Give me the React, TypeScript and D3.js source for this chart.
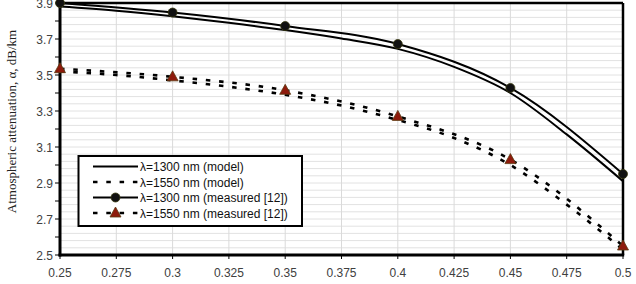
import React from 'react';
import * as d3 from 'd3';

// x values (visibility-ish parameter) and attenuation values
const modelX = [0.25, 0.275, 0.3, 0.325, 0.35, 0.375, 0.4, 0.425, 0.45, 0.475, 0.5];
const model1300 = [3.88, 3.857, 3.826, 3.79, 3.75, 3.703, 3.645, 3.545, 3.4, 3.17, 2.91];
const model1550 = [3.52, 3.5, 3.47, 3.435, 3.39, 3.33, 3.25, 3.15, 3.0, 2.78, 2.53];

const measX = [0.25, 0.3, 0.35, 0.4, 0.45, 0.5];
const meas1300 = [3.9, 3.847, 3.772, 3.672, 3.428, 2.95];
const meas1550 = [3.535, 3.49, 3.415, 3.27, 3.03, 2.55];

const xTicks = [0.25, 0.275, 0.3, 0.325, 0.35, 0.375, 0.4, 0.425, 0.45, 0.475, 0.5];
const yTicks = [2.5, 2.7, 2.9, 3.1, 3.3, 3.5, 3.7, 3.9];

const legendLabels = [
  'λ=1300 nm (model)',
  'λ=1550 nm (model)',
  'λ=1300 nm (measured [12])',
  'λ=1550 nm (measured [12])',
];

const W = 636;
const H = 284;
const margin = { top: 3, right: 13, bottom: 29, left: 60 };
const DASH = '4.5 8.8';
const RED = '#8e1a0c';

const Triangle = ({ x, y }: { x: number; y: number }) => (
  <path
    d={`M${x},${y - 6} L${x + 5.5},${y + 4} L${x - 5.5},${y + 4} Z`}
    fill={RED}
    stroke="#5a3a10"
    strokeWidth={0.8}
  />
);

const Dot = ({ x, y }: { x: number; y: number }) => (
  <circle cx={x} cy={y} r={4.5} fill="#111" stroke="#3a3a10" strokeWidth={0.8} />
);

const App = () => {
  const x = d3.scaleLinear().domain([0.25, 0.5]).range([margin.left, W - margin.right]);
  const y = d3.scaleLinear().domain([2.5, 3.9]).range([H - margin.bottom, margin.top]);

  const line = d3
    .line<[number, number]>()
    .x(d => x(d[0]))
    .y(d => y(d[1]))
    .curve(d3.curveMonotoneX);

  const zip = (xs: number[], ys: number[]) => xs.map((v, i) => [v, ys[i]] as [number, number]);

  const minorY = d3.range(0, 36).map(i => 2.5 + i * 0.04);
  const tenthY = d3.range(0, 15).map(i => 2.5 + i * 0.1);

  const [x0, x1] = x.range();
  const [yb, yt] = y.range();

  const lx0 = 93;
  const lx1 = 138;
  const rowY = [166.5, 182, 197.5, 213];

  return (
    <svg
      width={W}
      height={H}
      style={{ position: 'absolute', left: 0, top: 0, background: '#fff' }}
      fontFamily="Arial, 'Liberation Sans', sans-serif"
    >
      {/* grid */}
      {minorY.map((v, i) => (
        <line key={'h' + i} x1={x0} x2={x1} y1={y(v)} y2={y(v)} stroke="#e2e2e2" strokeWidth={1} />
      ))}
      {xTicks.map((v, i) => (
        <line key={'v' + i} x1={x(v)} x2={x(v)} y1={yt} y2={yb} stroke="#dadada" strokeWidth={1} />
      ))}

      {/* series */}
      <path d={line(zip(modelX, model1300)) || ''} fill="none" stroke="#000" strokeWidth={2} />
      <path d={line(zip(measX, meas1300)) || ''} fill="none" stroke="#000" strokeWidth={2} />
      <path
        d={line(zip(modelX, model1550)) || ''}
        fill="none"
        stroke="#000"
        strokeWidth={2.6}
        strokeDasharray={DASH}
      />
      <path
        d={line(zip(measX, meas1550)) || ''}
        fill="none"
        stroke="#000"
        strokeWidth={2.6}
        strokeDasharray={DASH}
      />

      {/* plot frame */}
      <line x1={x0} x2={x1} y1={yt} y2={yt} stroke="#000" strokeWidth={2.5} />
      <line x1={x1} x2={x1} y1={yt} y2={yb} stroke="#000" strokeWidth={2.5} />
      <line x1={x0} x2={x0} y1={yt - 1} y2={yb + 1.5} stroke="#000" strokeWidth={3} />
      <line x1={x0 - 1.5} x2={x1 + 1.2} y1={yb} y2={yb} stroke="#000" strokeWidth={3} />

      {/* ticks */}
      {tenthY.map((v, i) => (
        <line key={'yt' + i} x1={x0 - 5} x2={x0} y1={y(v)} y2={y(v)} stroke="#000" strokeWidth={1} />
      ))}
      {xTicks.map((v, i) => (
        <line key={'xt' + i} x1={x(v)} x2={x(v)} y1={yb} y2={yb + 4} stroke="#000" strokeWidth={1} />
      ))}

      {/* markers */}
      {measX.map((v, i) => (
        <Dot key={'d' + i} x={x(v)} y={y(meas1300[i])} />
      ))}
      {measX.map((v, i) => (
        <Triangle key={'t' + i} x={x(v)} y={y(meas1550[i])} />
      ))}

      {/* tick labels */}
      {yTicks.map((v, i) => (
        <text key={'yl' + i} x={53} y={y(v) + 4.5} textAnchor="end" fontSize={12} fill="#404040">
          {d3.format('.1f')(v)}
        </text>
      ))}
      {xTicks.map((v, i) => (
        <text key={'xl' + i} x={x(v)} y={277} textAnchor="middle" fontSize={12} fill="#404040">
          {String(+v.toFixed(3))}
        </text>
      ))}

      {/* y axis title */}
      <text
        transform={`translate(16, 121.5) rotate(-90)`}
        textAnchor="middle"
        fontSize={13}
        fontFamily="'Times New Roman', 'Liberation Serif', serif"
        fill="#222"
      >
        Atmospheric attenuation, α, dB/km
      </text>

      {/* legend */}
      <rect x={78.5} y={156} width={223.5} height={70} fill="#fff" stroke="#000" strokeWidth={2} />
      <line x1={lx0} x2={lx1} y1={rowY[0]} y2={rowY[0]} stroke="#000" strokeWidth={2} />
      <line
        x1={lx0}
        x2={lx1}
        y1={rowY[1]}
        y2={rowY[1]}
        stroke="#000"
        strokeWidth={2.6}
        strokeDasharray={DASH}
      />
      <line x1={lx0} x2={lx1} y1={rowY[2]} y2={rowY[2]} stroke="#000" strokeWidth={2} />
      <Dot x={(lx0 + lx1) / 2} y={rowY[2]} />
      <line
        x1={lx0}
        x2={lx1}
        y1={rowY[3]}
        y2={rowY[3]}
        stroke="#000"
        strokeWidth={2.6}
        strokeDasharray={DASH}
      />
      <Triangle x={(lx0 + lx1) / 2} y={rowY[3]} />
      {legendLabels.map((t, i) => (
        <text key={'lg' + i} x={140} y={rowY[i] + 4.5} fontSize={12} fill="#111">
          {t}
        </text>
      ))}
    </svg>
  );
};

export default App;
